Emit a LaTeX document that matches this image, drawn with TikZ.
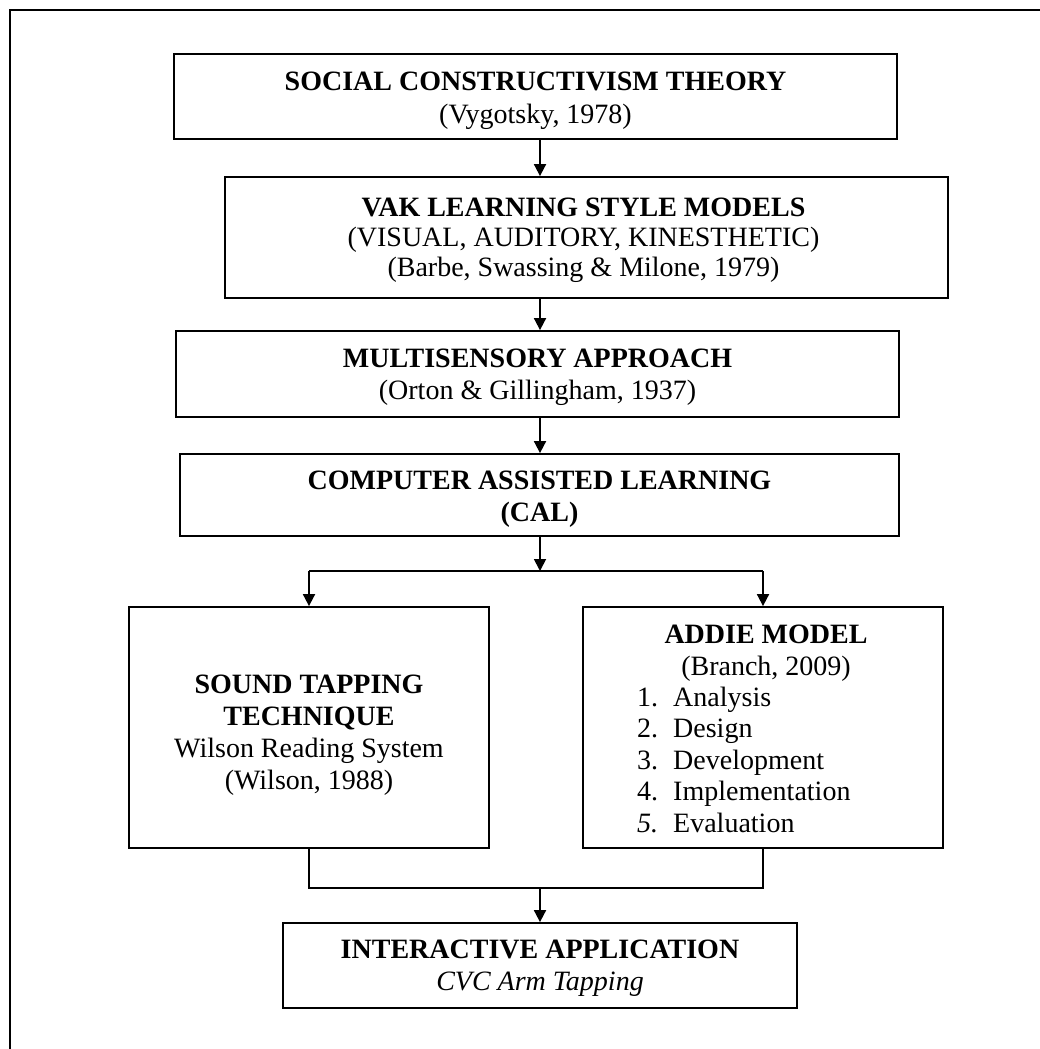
\documentclass[tikz,border=0pt]{standalone}
\usepackage{fontspec}
\setmainfont{Liberation Serif}
\usetikzlibrary{arrows.meta}
\begin{document}
\begin{tikzpicture}[x=1pt,y=-1pt,
  box/.style={draw=black, line width=1.8pt, inner sep=0pt},
  conn/.style={line width=1.8pt, line join=miter},
  arr/.style={conn, -{Triangle[width=12pt,length=12pt]}},
  txt/.style={inner sep=0pt, align=center, font=\fontsize{28}{32}\selectfont}]
\useasboundingbox (0,0) rectangle (1040,1049);
\clip (0,0) rectangle (1040,1049);
\draw[line width=1.8pt] (10,1070) -- (10,10) -- (1060,10);

\node[box, minimum width=723pt, minimum height=85pt] (b1) at (535.5,96.5) {};
\node[txt] (b1t) at ([yshift=-4pt]b1.center)
  {\textbf{SOCIAL CONSTRUCTIVISM THEORY}\\[1pt](Vygotsky, 1978)};
\node[box, minimum width=723pt, minimum height=121pt] (b2) at (586.5,237.5) {};
\node[txt, font=\fontsize{28}{30}\selectfont] (b2t) at ([xshift=-3pt,yshift=-3pt]b2.center)
  {\textbf{VAK LEARNING STYLE MODELS}\\(VISUAL, AUDITORY, KINESTHETIC)\\(Barbe, Swassing \& Milone, 1979)};
\node[box, minimum width=723pt, minimum height=86pt] (b3) at (537.5,374) {};
\node[txt] (b3t) at ([yshift=-3pt]b3.center)
  {\textbf{MULTISENSORY APPROACH}\\(Orton \& Gillingham, 1937)};
\node[box, minimum width=719pt, minimum height=82pt] (b4) at (539.5,495) {};
\node[txt] (b4t) at ([yshift=-4pt]b4.center)
  {\textbf{COMPUTER ASSISTED LEARNING}\\\textbf{(CAL)}};
\node[box, minimum width=360pt, minimum height=241pt] (l) at (309,727.5) {};
\node[txt] (lt) at ([yshift=-8pt]l.center)
  {\textbf{SOUND TAPPING}\\\textbf{TECHNIQUE}\\Wilson Reading System\\(Wilson, 1988)};
\node[box, minimum width=360pt, minimum height=241pt] (r) at (763,727.5) {};
\node[txt, font=\fontsize{28}{31.5}\selectfont] (rt) at (766,653) {\textbf{ADDIE MODEL}\\(Branch, 2009)};
\node[txt, anchor=west, font=\fontsize{28}{31.5}\selectfont] (rl) at (637,763) {%
  \begin{tabular}{@{}l@{\hspace{15pt}}l@{}}
  1. & Analysis\\
  2. & Design\\
  3. & Development\\
  4. & Implementation\\
  \textit{5.} & Evaluation
  \end{tabular}};
\node[box, minimum width=514pt, minimum height=85pt] (fin) at (540,965.5) {};
\node[txt] (fint) at ([yshift=-3pt]fin.center)
  {\textbf{INTERACTIVE APPLICATION}\\\textit{CVC Arm Tapping}};

\coordinate (spine) at (540,0);
\coordinate (split) at (0,571);
\coordinate (merge) at (0,888);

\draw[arr] (b1.south -| spine) -- (b2.north -| spine);
\draw[arr] (b2.south -| spine) -- (b3.north -| spine);
\draw[arr] (b3.south -| spine) -- (b4.north -| spine);
\draw[arr] (b4.south -| spine) -- (spine |- split);
\draw[conn] (l.north |- split) -- (r.north |- split);
\draw[arr] (l.north |- split) -- (l.north);
\draw[arr] (r.north |- split) -- (r.north);
\draw[conn] (l.south) -- (l.south |- merge) -- (r.south |- merge) -- (r.south);
\draw[arr] (spine |- merge) -- (fin.north -| spine);
\end{tikzpicture}
\end{document}
